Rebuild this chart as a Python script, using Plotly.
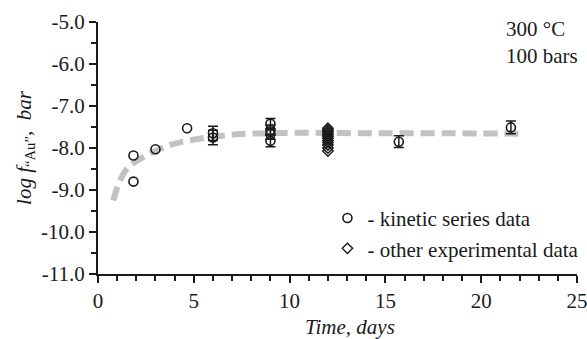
import plotly.graph_objects as go

# Kinetic series: single measurements
kin_t = [1.85, 1.85, 3.0, 4.65]
kin_logf = [-8.18, -8.80, -8.03, -7.53]

# Kinetic series: measurements with uncertainty
kin_err_t = [6.0, 6.0, 9.0, 9.0, 9.0, 9.0, 15.7, 21.55]
kin_err_logf = [-7.65, -7.75, -7.42, -7.57, -7.67, -7.83, -7.85, -7.51]
kin_err = [0.17, 0.17, 0.12, 0.12, 0.12, 0.14, 0.14, 0.15]

# Other experimental data at 12 days
oth_t = [12.0] * 12
oth_logf = [-7.53, -7.57, -7.61, -7.65, -7.69, -7.73, -7.77, -7.82,
            -7.87, -7.93, -8.00, -8.07]

# Approximation curve
fit_t = [0.8, 1.1, 1.45, 1.85, 2.6, 3.75, 4.9, 7.1, 10.0, 14.0, 18.0, 22.2]
fit_logf = [-9.25, -8.82, -8.53, -8.36, -8.16, -7.93, -7.81, -7.68,
            -7.64, -7.65, -7.65, -7.66]

y_ticks = [-11, -10, -9, -8, -7, -6, -5]
y_tick_text = ["-11.0", "-10.0", "-9.0", "-8.0", "-7.0", "-6.0", "-5.0"]
x_ticks = [0, 5, 10, 15, 20, 25]

FONT = "Liberation Serif"
INK = "#1a1a1a"
FS = 21

fig = go.Figure()

fig.add_trace(go.Scatter(
    x=fit_t, y=fit_logf, mode="lines", line_shape="spline",
    line=dict(color="#c2c2c2", width=6, dash="14px,7px"),
    showlegend=False, hoverinfo="skip"))

fig.add_trace(go.Scatter(
    x=kin_err_t, y=kin_err_logf, mode="markers",
    marker=dict(symbol="circle-open", size=9, color=INK, line=dict(width=1.6)),
    error_y=dict(type="data", array=kin_err, color=INK, thickness=1.5, width=5),
    showlegend=False))

fig.add_trace(go.Scatter(
    x=kin_t, y=kin_logf, mode="markers", name="- kinetic series data",
    marker=dict(symbol="circle-open", size=9, color=INK, line=dict(width=1.6))))

fig.add_trace(go.Scatter(
    x=oth_t, y=oth_logf, mode="markers", name="- other experimental data",
    marker=dict(symbol="diamond-open", size=8, color=INK, line=dict(width=1.4))))

# Experimental conditions
fig.add_annotation(
    x=0.8476, y=1.028, xref="paper", yref="paper", xanchor="left", yanchor="top",
    align="left", showarrow=False,
    text="300 °C<br>100 bars",
    font=dict(family=FONT, size=FS, color=INK))

# x-axis title
fig.add_annotation(
    x=0.526, y=-0.21, xref="paper", yref="paper", xanchor="center", yanchor="middle",
    showarrow=False, text="<i>Time, days</i>",
    font=dict(family=FONT, size=FS, color=INK))

axis_common = dict(
    showline=True, linecolor=INK, linewidth=2, mirror=False,
    showgrid=False, zeroline=False,
    ticks="outside", ticklen=7, tickwidth=1.5, tickcolor=INK,
    tickfont=dict(family=FONT, size=FS, color=INK),
    ticklabeloverflow="allow",
)

fig.update_layout(
    width=587, height=339,
    margin=dict(l=98, r=10, t=22, b=65, autoexpand=False),
    paper_bgcolor="white", plot_bgcolor="white",
    xaxis=dict(
        range=[0, 25], tickvals=x_ticks,
        minor=dict(dtick=1, ticks="outside", ticklen=5, tickwidth=1.5, tickcolor=INK),
        **axis_common),
    yaxis=dict(
        range=[-11, -5], tickvals=y_ticks, ticktext=y_tick_text,
        minor=dict(dtick=0.5, ticks="outside", ticklen=5, tickwidth=1.5, tickcolor=INK),
        title=dict(text="<i>log f</i><sub>“Au”</sub><i>,  bar</i>",
                   font=dict(family=FONT, size=FS, color=INK), standoff=4),
        **axis_common),
    legend=dict(
        x=0.479, y=0.302, xanchor="left", yanchor="top",
        bgcolor="rgba(0,0,0,0)", itemwidth=30,
        font=dict(family=FONT, size=FS, color=INK),
        tracegroupgap=0),
    showlegend=True,
)

fig.write_html("out.html")
